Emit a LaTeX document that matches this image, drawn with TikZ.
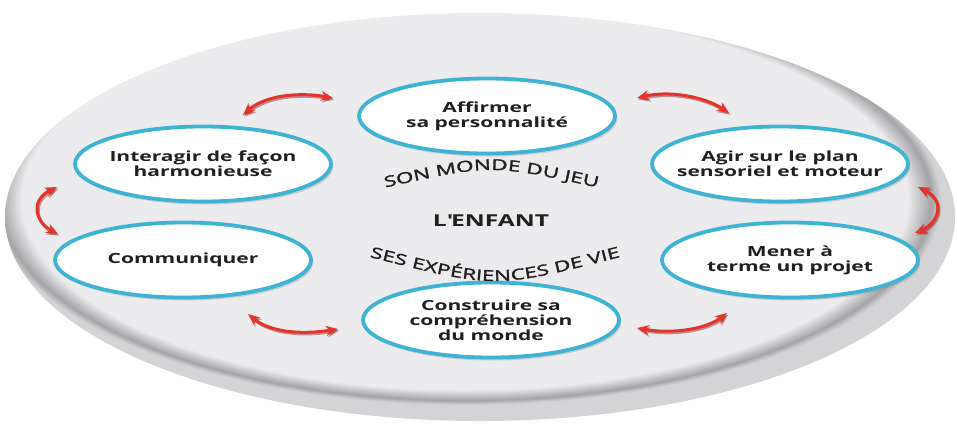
\documentclass[tikz,border=0pt]{standalone}
\usepackage{fontspec}
\setmainfont{Open Sans}[FakeStretch=1.5]
\newfontfamily\archfont{Open Sans}[FakeStretch=1.5,FakeBold=2]
\usetikzlibrary{shapes.geometric,arrows.meta,shadows,decorations.text}
\definecolor{ringc}{HTML}{3FB3D3}
\definecolor{arrc}{HTML}{E3342B}
\definecolor{arrdark}{HTML}{8A1A14}
\definecolor{txtc}{HTML}{231F20}
\definecolor{bgl}{HTML}{ECECEE}
\definecolor{bgm}{HTML}{A4A4A6}
\definecolor{bgd}{HTML}{D4D4D6}
\pgfdeclareradialshading{bgshade}{\pgfpoint{-1.5bp}{4bp}}{color(0bp)=(bgl); color(23.3bp)=(bgl); color(24.5bp)=(bgm); color(25bp)=(bgd); color(50bp)=(bgd)}
\begin{document}
\begin{tikzpicture}[x=1pt,y=-1pt,
  bubble/.style={ellipse, draw=ringc, line width=3.8pt, fill=white, minimum width=256pt, minimum height=75pt, inner sep=0pt,
    drop shadow={shadow xshift=2pt, shadow yshift=-3pt, opacity=0.3}},
  bubtext/.style={align=center, text=txtc, font=\bfseries\fontsize{14}{15}\selectfont, inner sep=0pt},
  ringarrow/.style={draw=arrc, line width=3pt, {Stealth[length=12pt,width=10pt]}-{Stealth[length=12pt,width=10pt]}},
  ringshadow/.style={draw=arrdark, opacity=0.45, line width=3pt, {Stealth[length=12pt,width=10pt]}-{Stealth[length=12pt,width=10pt]}},
  archtext/.style={decorate, decoration={text along path, text align=center, text color=txtc}}
]
\useasboundingbox (0,0) rectangle (957,423);
\fill[white] (0,0) rectangle (957,423);
% background disc
\node[ellipse, shade, shading=bgshade, minimum width=950pt, minimum height=408pt, inner sep=0pt] (disc) at (480,217) {};

% arrow end points
\coordinate (a1s) at (243,115); \coordinate (a1e) at (333,98);
\coordinate (a2s) at (637,98);  \coordinate (a2e) at (729,113);
\coordinate (a3s) at (57,187);  \coordinate (a3e) at (58,234);
\coordinate (a4s) at (918,187); \coordinate (a4e) at (915,233);
\coordinate (a5s) at (248,314); \coordinate (a5e) at (338,329);
\coordinate (a6s) at (637,328); \coordinate (a6e) at (727,313);

\begin{scope}[transform canvas={shift={(1.2pt,-1.6pt)}}]
\draw[ringshadow] (a1s) .. controls (265,95) and (300,92) .. (a1e);
\draw[ringshadow] (a2s) .. controls (670,90) and (705,97) .. (a2e);
\draw[ringshadow] (a3s) .. controls (30,200) and (35,222) .. (a3e);
\draw[ringshadow] (a4s) .. controls (945,200) and (940,222) .. (a4e);
\draw[ringshadow] (a5s) .. controls (270,332) and (300,335) .. (a5e);
\draw[ringshadow] (a6s) .. controls (670,334) and (705,330) .. (a6e);
\end{scope}
\draw[ringarrow] (a1s) .. controls (265,95) and (300,92) .. (a1e);
\draw[ringarrow] (a2s) .. controls (670,90) and (705,97) .. (a2e);
\draw[ringarrow] (a3s) .. controls (30,200) and (35,222) .. (a3e);
\draw[ringarrow] (a4s) .. controls (945,200) and (940,222) .. (a4e);
\draw[ringarrow] (a5s) .. controls (270,332) and (300,335) .. (a5e);
\draw[ringarrow] (a6s) .. controls (670,334) and (705,330) .. (a6e);

% bubbles
\node[bubble] (naff) at (487,116) {};
\node[bubble] (nint) at (203,164) {};
\node[bubble] (nagi) at (780,164) {};
\node[bubble] (ncom) at (183,260) {};
\node[bubble] (nmen) at (790,260) {};
\node[bubble] (ncon) at (491,320) {};

\node[bubtext] (taff) at (naff) {Affirmer\\sa personnalité};
\node[bubtext] (tint) at (nint) {Interagir de façon\\harmonieuse};
\node[bubtext] (tagi) at (nagi) {Agir sur le plan\\sensoriel et moteur};
\node[bubtext] (tcom) at (ncom) {Communiquer};
\node[bubtext] (tmen) at (nmen) {Mener à\\terme un projet};
\node[bubtext] (tcon) at (ncon) {Construire sa\\compréhension\\du monde};

% centre
\node[text=txtc, font=\bfseries\fontsize{16.4}{18}\selectfont, inner sep=0pt] (enf) at (491,221) {L\textquotesingle ENFANT};
\path[archtext, decoration={text={|\archfont\fontsize{15}{16}\selectfont|SON MONDE DU JEU}}]
  (383,188) .. controls (491,164) .. (600,188);
\path[archtext, decoration={text={|\archfont\fontsize{15}{16}\selectfont|SES EXPÉRIENCES DE VIE}}]
  (370,257) .. controls (495,289) .. (620,257);
\end{tikzpicture}
\end{document}
